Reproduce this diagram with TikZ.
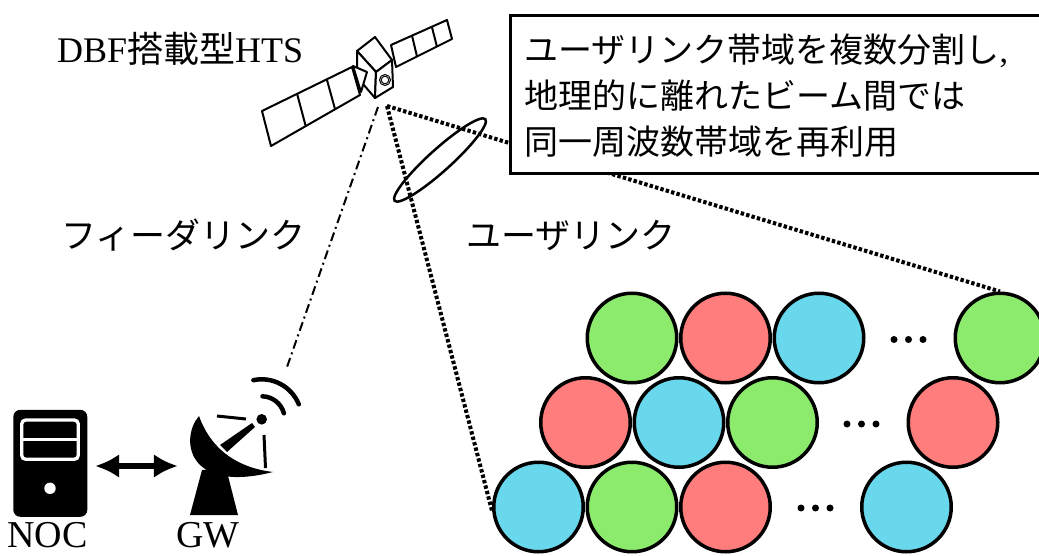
\documentclass[tikz,border=0pt]{standalone}
\usepackage{fontspec}
\setmainfont{Liberation Serif}
\newfontfamily\jp{Noto Sans CJK JP}
\usetikzlibrary{arrows.meta,shapes.geometric,calc}

\definecolor{beamgreen}{RGB}{140,235,108}
\definecolor{beamred}{RGB}{255,125,125}
\definecolor{beamblue}{RGB}{106,216,236}

\begin{document}
\begin{tikzpicture}[x=1pt,y=-1pt,
  beam/.style={circle, draw=black, line width=3.5pt, minimum size=89.5pt, inner sep=0pt},
  gbeam/.style={beam, fill=beamgreen},
  rbeam/.style={beam, fill=beamred},
  bbeam/.style={beam, fill=beamblue},
  satline/.style={line width=2pt, line join=round, fill=white},
  userlink/.style={line width=4pt, dash pattern=on 3.4pt off 2.2pt},
  feederlink/.style={line width=2pt, dash pattern=on 9pt off 4pt on 2pt off 4pt},
  jplabel/.style={inner sep=0pt, anchor=base west, font=\fontsize{35}{35}\selectfont\jp},
  romanlabel/.style={inner sep=0pt, anchor=base, font=\fontsize{38}{38}\selectfont},
  dblarrow/.style={line width=6pt, {Latex[length=24pt,width=24pt]}-{Latex[length=24pt,width=24pt]},
    shorten <=7.7pt, shorten >=12pt},
  ellipsisdot/.style={fill=black},
]
\useasboundingbox (0,0) rectangle (1039,556);

% ---- beam cells ----
\node[gbeam] (c11) at (632,338) {};
\node[rbeam] (c12) at (725.5,338) {};
\node[bbeam] (c13) at (819,338) {};
\node[gbeam] (c14) at (1000,338) {};
\node[rbeam] (c21) at (585.5,422.5) {};
\node[bbeam] (c22) at (679,422.5) {};
\node[gbeam] (c23) at (772.5,422.5) {};
\node[rbeam] (c24) at (953,422.5) {};
\node[bbeam] (c31) at (538.5,507) {};
\node[gbeam] (c32) at (632,507) {};
\node[rbeam] (c33) at (725.5,507) {};
\node[bbeam] (c34) at (906.5,507) {};

\foreach \x in {894,908.5,923} \fill[ellipsisdot] (\x,339.5) circle[radius=3.5pt];
\foreach \x in {847,861.5,876} \fill[ellipsisdot] (\x,424) circle[radius=3.5pt];
\foreach \x in {801,815.5,830} \fill[ellipsisdot] (\x,508) circle[radius=3.5pt];

% ---- satellite ----
\coordinate (sat) at (378,107);
\coordinate (satu) at (387,106);
% solar panels
\draw[satline] (262,111) -- (352,67) -- (360,95) -- (271,146) -- cycle;
\draw[satline] ($(262,111)!0.39!(352,67)$) -- ($(271,146)!0.39!(360,95)$);
\draw[satline] ($(262,111)!0.72!(352,67)$) -- ($(271,146)!0.72!(360,95)$);
\draw[satline] (391,45) -- (447,20) -- (452,39) -- (396,67) -- cycle;
\draw[satline] ($(391,45)!0.375!(447,20)$) -- ($(396,67)!0.375!(452,39)$);
\draw[satline] ($(391,45)!0.73!(447,20)$) -- ($(396,67)!0.73!(452,39)$);
% bus
\draw[satline] (375,37) -- (357,51) -- (376,72) -- (392,60) -- cycle;
\draw[satline] (357,51) -- (376,72) -- (375,98) -- (357,77) -- cycle;
\draw[satline] (376,72) -- (392,60) -- (393,87) -- (375,98) -- cycle;
\draw[satline] (353,66) -- (367,72) -- (361,92) -- cycle;
\draw[line width=1pt] (385,80) circle[radius=5.5pt];
\draw[line width=1pt] (385,80) circle[radius=3.8pt];

% ---- links ----
\coordinate (gwlink) at (287,367);
\draw[feederlink] (sat) -- (gwlink);
\draw[userlink] (satu) -- (c31.186);
\draw[userlink] (satu) -- (c14.north);
\node[draw, ellipse, line width=2.5pt, minimum width=122pt, minimum height=22pt,
      inner sep=0pt, rotate=42] (spot) at (440,160) {};

% ---- note ----
\node[draw, line width=3pt, fill=white, anchor=north west, minimum width=545pt,
      minimum height=158pt, inner sep=0pt] (note) at (509,14) {};
\node[anchor=base west, inner sep=0pt, align=left, font=\fontsize{34}{46}\selectfont\jp]
  (notetext) at (524,155) {ユーザリンク帯域を複数分割し{\rmfamily ,}\\地理的に離れたビーム間では\\同一周波数帯域を再利用};

% ---- labels ----
\node[inner sep=0pt, anchor=base west, font=\fontsize{36}{36}\selectfont] (hts) at (57,63) {DBF{\jp 搭載型}HTS};
\node[jplabel] (flabel) at (61,248) {フィーダリンク};
\node[jplabel] (ulabel) at (466,249) {ユーザリンク};

% ---- NOC server ----
\node[fill=black, rounded corners=7pt, minimum width=74pt, minimum height=107pt, inner sep=0pt]
  (noc) at (50.3,463.3) {};
\draw[white, line width=3.3pt, rounded corners=4pt] (21.7,420) rectangle (78.3,459.3);
\draw[white, line width=3.3pt] (21.7,439.5) -- (78.3,439.5);
\fill[white] (50,488.3) circle[radius=5.7pt];
\node[romanlabel] (noclabel) at (47.5,547) {NOC};

% ---- gateway antenna ----
\node[minimum width=110pt, minimum height=135pt, inner sep=0pt] (gw) at (245,448) {};
\fill (202,470) -- (226,468) -- (238,515) -- (190,515) -- cycle;
\fill (199,416) .. controls (180,438) and (186,494) .. (273,472)
      .. controls (240,468) and (212,452) .. cycle;
\draw[line width=3pt] (217,416) -- (246,419);
\draw[line width=3pt] (264,435) -- (265.5,468);
\fill (220,445) -- (252,423) -- (255,427) -- (227,452) -- cycle;
\coordinate (feed) at (261.7,419.3);
\fill (feed) circle[radius=5.3pt];
\draw[line width=4.5pt, line cap=round] ($(feed)+(88:23pt)$) arc[start angle=88, end angle=15, radius=23pt];
\draw[line width=4.5pt, line cap=round] ($(feed)+(102:40pt)$) arc[start angle=102, end angle=22, radius=40pt];
\node[romanlabel] (gwlabel) at (208,547) {GW};

\draw[dblarrow] ([yshift=-2.7pt]noc.east) -- ([yshift=-2.7pt]noc.east -| gw.west);
\end{tikzpicture}
\end{document}
